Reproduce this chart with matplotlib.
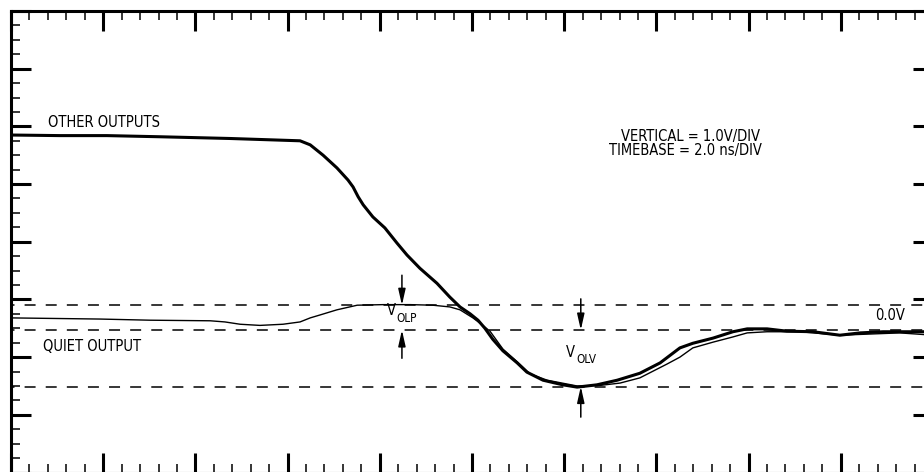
import numpy as np
import matplotlib
matplotlib.use("Agg")
import matplotlib.pyplot as plt
from matplotlib import font_manager
from matplotlib.ticker import MultipleLocator, FixedLocator

# ---- data (time in ns, voltage in V) ----
other_t = [0.0, 1.06, 2.08, 3.23, 4.75, 6.27, 6.49, 6.77, 7.07, 7.31, 7.42, 7.53,
           7.64, 7.85, 8.11, 8.37, 8.59, 8.87, 9.24, 9.52, 9.74, 9.96, 10.13,
           10.28, 10.45, 10.67, 10.98, 11.19, 11.54, 11.97, 12.28, 12.71, 13.15,
           13.64, 14.08, 14.51, 14.79, 15.23, 15.66, 15.97, 16.40, 16.83, 17.40,
           17.98, 18.42, 18.92, 19.50, 20.0]
other_v = [3.38, 3.37, 3.37, 3.35, 3.32, 3.28, 3.21, 3.03, 2.81, 2.60, 2.48, 2.31,
           2.17, 1.96, 1.77, 1.51, 1.30, 1.07, 0.81, 0.57, 0.40, 0.28, 0.17,
           0.03, -0.16, -0.36, -0.57, -0.73, -0.87, -0.95, -0.99, -0.95, -0.87,
           -0.75, -0.57, -0.31, -0.23, -0.14, -0.03, 0.02, 0.02, -0.02, -0.03,
           -0.09, -0.05, -0.03, -0.03, -0.03]

quiet_t = [0.0, 1.93, 3.02, 4.32, 4.64, 4.97, 5.40, 5.90, 6.27, 6.49, 6.70, 7.07,
           7.51, 8.07, 8.66, 9.15, 9.52, 9.74, 10.02, 10.17, 10.39, 10.67, 10.98,
           11.26, 11.63, 12.28, 12.78, 13.21, 13.64, 14.23, 14.51, 14.79, 15.23,
           15.66, 15.97, 16.40, 17.12, 17.98, 19.28, 20.0]
quiet_v = [0.21, 0.19, 0.17, 0.16, 0.14, 0.10, 0.08, 0.10, 0.14, 0.21, 0.26, 0.35,
           0.43, 0.44, 0.44, 0.43, 0.40, 0.35, 0.21, 0.12, -0.02, -0.33, -0.55,
           -0.76, -0.87, -0.97, -0.96, -0.92, -0.83, -0.59, -0.47, -0.31, -0.21,
           -0.12, -0.05, -0.03, -0.03, -0.09, -0.05, -0.09]

ref_levels = [0.43, 0.0, -0.98]          # V_OLP peak, 0.0 V, V_OLV valley
volp_t = 8.48
volv_t = 12.36

xlim = (0.0, 20.0)
ylim = (-2.47, 5.53)

# ---- fonts: prefer a narrow sans face ----
fname = None
prefs = ['LiberationSansNarrow-Regular', 'DejaVuSansCondensed.', 'Condensed', 'Narrow']
files = [f.fname for f in font_manager.fontManager.ttflist]
for p in prefs:
    hits = [f for f in files if p in f and 'Bold' not in f and 'Oblique' not in f
            and 'Italic' not in f]
    if hits:
        fname = hits[0]
        break
if fname:
    def fp(size):
        return font_manager.FontProperties(fname=fname, size=size)
    base = 10.5
else:
    def fp(size):
        return font_manager.FontProperties(family=['Roboto', 'DejaVu Sans'], size=size)
    base = 9.5
plt.rcParams['lines.scale_dashes'] = False

fig = plt.figure(figsize=(9.24, 4.72), dpi=100)
W, H = 924, 472
ax = fig.add_axes([11 / W, (H - 472.5) / H, (933 - 11) / W, (472.5 - 11) / H])
ax.set_xlim(*xlim)
ax.set_ylim(*ylim)

for sp in ax.spines.values():
    sp.set_linewidth(2.2)
    sp.set_color('black')

ax.xaxis.set_major_locator(MultipleLocator(2.0))
ax.xaxis.set_minor_locator(MultipleLocator(0.4))
ax.yaxis.set_major_locator(FixedLocator(np.arange(ylim[0], ylim[1] + 1e-6, 1.0)))
ax.yaxis.set_minor_locator(FixedLocator(np.arange(ylim[0], ylim[1] + 1e-6, 0.25)))
ax.tick_params(which='both', direction='in', top=True, right=True,
               labelbottom=False, labelleft=False, colors='black')
ax.tick_params(which='major', length=14.4, width=2.2)
ax.tick_params(which='minor', length=6.5, width=1.1)

# dashed reference levels
for lv in ref_levels:
    ax.axhline(lv, color='black', lw=1.1, linestyle=(5.4, (7.9, 7.3)), zorder=1)

# traces
ax.plot(quiet_t, quiet_v, color='black', lw=1.0, zorder=3, solid_capstyle='round')
ax.plot(other_t, other_v, color='black', lw=2.2, zorder=4, solid_capstyle='round',
        solid_joinstyle='round')

# arrows
ap = dict(arrowstyle='-|>,head_length=0.8,head_width=0.18', lw=1.1, color='black',
          shrinkA=0, shrinkB=0, mutation_scale=12)
ax.annotate('', xy=(volp_t, ref_levels[0]), xytext=(volp_t, 0.95), arrowprops=ap)
ax.annotate('', xy=(volp_t, ref_levels[1]), xytext=(volp_t, -0.49), arrowprops=ap)
ax.annotate('', xy=(volv_t, ref_levels[1]), xytext=(volv_t, 0.54), arrowprops=ap)
ax.annotate('', xy=(volv_t, ref_levels[2]), xytext=(volv_t, -1.51), arrowprops=ap)

sub = base * 0.8
ax.text(0.80, 3.47, 'OTHER OUTPUTS', fontproperties=fp(base), ha='left', va='bottom')
ax.text(0.69, -0.42, 'QUIET OUTPUT', fontproperties=fp(base), ha='left', va='bottom')
ax.text(14.73, 3.22, 'VERTICAL = 1.0V/DIV', fontproperties=fp(base), ha='center', va='bottom')
ax.text(14.62, 2.98, 'TIMEBASE = 2.0 ns/DIV', fontproperties=fp(base), ha='center', va='bottom')
ax.text(19.39, 0.12, '0.0V', fontproperties=fp(base), ha='right', va='bottom')

ax.text(8.16, 0.21, 'V', fontproperties=fp(base), ha='left', va='bottom')
ax.text(8.37, 0.09, 'OLP', fontproperties=fp(sub), ha='left', va='bottom')
ax.text(12.04, -0.52, 'V', fontproperties=fp(base), ha='left', va='bottom')
ax.text(12.26, -0.62, 'OLV', fontproperties=fp(sub), ha='left', va='bottom')

fig.savefig('out.png', dpi=100)
